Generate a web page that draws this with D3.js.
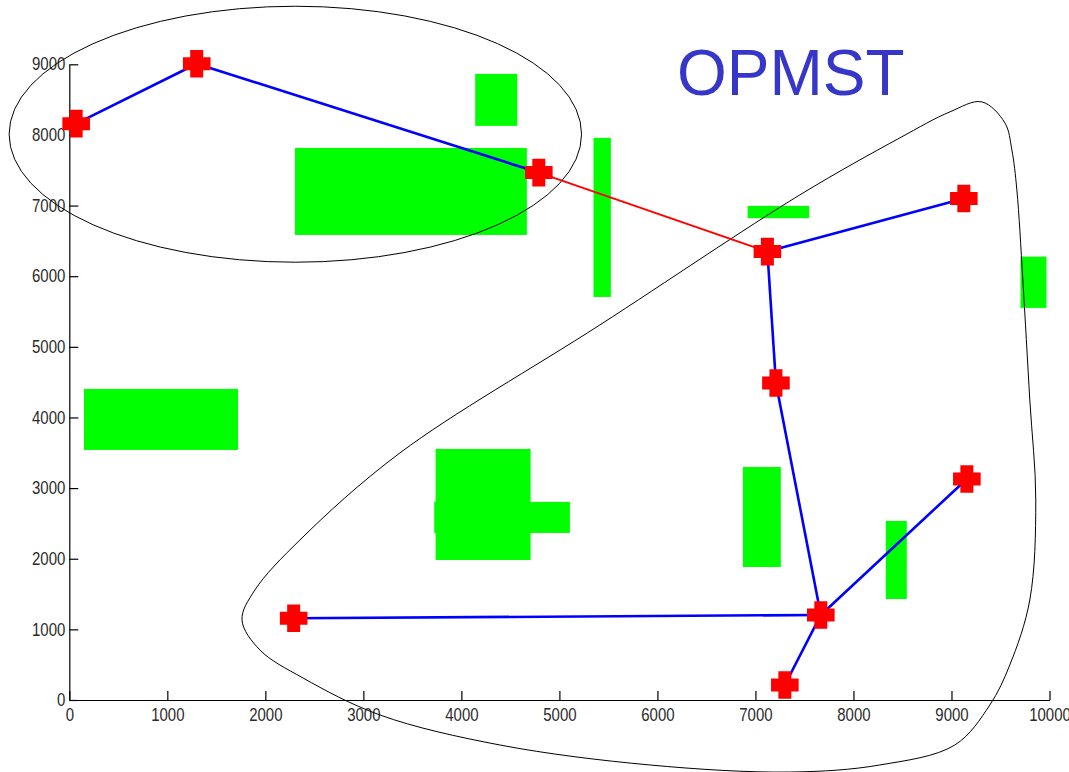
<!DOCTYPE html>
<html>
<head>
<meta charset="utf-8">
<script src="https://cdn.jsdelivr.net/npm/d3@7"></script>
<style>
  html, body { margin: 0; padding: 0; background: #fff; }
  svg { display: block; }
  .tick text { font-family: "Liberation Sans", Arial, sans-serif; font-size: 15px; fill: #2a2a2a; }
</style>
</head>
<body>
<svg id="chart" width="1069" height="772"></svg>
<script>
// Network nodes (sensor positions)
const nodeX = [70, 1300, 4790, 7122, 9126, 7209, 7667, 2289, 7300, 9157];
const nodeY = [8160, 9008, 7467, 6348, 7099, 4489, 1204, 1157, 212, 3129];

// Tree edges: [from, to]; the bridge between the two clusters is red
const edgeFrom  = [0, 1, 2, 3, 3, 5, 6, 6, 6];
const edgeTo    = [1, 2, 3, 4, 5, 6, 7, 8, 9];
const edgeColor = ["#0000ff", "#0000ff", "#ff0000", "#0000ff", "#0000ff", "#0000ff", "#0000ff", "#0000ff", "#0000ff"];

// Obstacles: [x0, x1] x [y0, y1]
const obsX0 = [4141, 2302, 5348, 6920, 9704, 150, 3737, 3723, 6872, 8330];
const obsX1 = [4570, 4668, 5525, 7548, 9969, 1721, 4706, 5107, 7259, 8544];
const obsY0 = [8128, 6584, 5706, 6821, 5551, 3540, 1982, 2365, 1883, 1430];
const obsY1 = [8864, 7816, 7958, 6995, 6277, 4404, 3554, 2804, 3299, 2535];

// Cluster outlines
const ellipseCenter = [2306, 8010];
const ellipseRadii  = [2920, 1812];
const blobX = [9309, 9545, 9616, 9667, 9728, 9799, 9860, 9799, 9595, 9391, 9034, 8269, 7351, 5923, 4393, 3169, 2384, 1945, 1762, 1894, 2353, 3373, 5413, 7453, 8473, 8983];
const blobY = [8468, 8170, 7788, 7222, 5947, 4248, 2832, 1416, 496, -71, -637, -920, -1020, -920, -637, -212, 312, 708, 1133, 1558, 2266, 3498, 5310, 7151, 7958, 8326];

// Axes
const xTicks = [0, 1000, 2000, 3000, 4000, 5000, 6000, 7000, 8000, 9000, 10000];
const yTicks = [0, 1000, 2000, 3000, 4000, 5000, 6000, 7000, 8000, 9000];

const title = "OPMST";
const titlePos = [6199, 8567];

const svg = d3.select("#chart");
const W = 1069, H = 772;
const margin = { left: 69.3, right: 19.5, top: 64.3, bottom: 72 };

const x = d3.scaleLinear().domain([0, 10000]).range([margin.left, W - margin.right]);
const y = d3.scaleLinear().domain([0, 9000]).range([H - margin.bottom, margin.top]);

// Obstacles
svg.append("g").selectAll("rect")
  .data(d3.range(obsX0.length))
  .join("rect")
  .attr("x", i => x(obsX0[i]))
  .attr("y", i => y(obsY1[i]))
  .attr("width", i => x(obsX1[i]) - x(obsX0[i]))
  .attr("height", i => y(obsY0[i]) - y(obsY1[i]))
  .attr("fill", "#00ff00");

// Axes with inward ticks
const xAxis = d3.axisBottom(x).tickValues(xTicks).tickFormat(d3.format("d"))
  .tickSizeInner(-9).tickSizeOuter(0).tickPadding(7);
const yAxis = d3.axisLeft(y).tickValues(yTicks).tickFormat(d3.format("d"))
  .tickSizeInner(-9).tickSizeOuter(0).tickPadding(6);

const gx = svg.append("g").attr("transform", `translate(0,${y(0)})`).call(xAxis);
const gy = svg.append("g").attr("transform", `translate(${x(0)},0)`).call(yAxis);
[gx, gy].forEach(g => {
  g.select(".domain").attr("stroke", "#000").attr("stroke-width", 1.2);
  g.selectAll(".tick line").attr("stroke", "#000").attr("stroke-width", 1.2);
  // slightly tall, narrow digits
  g.selectAll(".tick text").attr("transform", "scale(1,1.18)");
});
gy.selectAll(".tick text").attr("dx", "2");

// Cluster outlines
svg.append("ellipse")
  .attr("cx", x(ellipseCenter[0]))
  .attr("cy", y(ellipseCenter[1]))
  .attr("rx", x(ellipseRadii[0]) - x(0))
  .attr("ry", y(0) - y(ellipseRadii[1]))
  .attr("fill", "none").attr("stroke", "#000").attr("stroke-width", 1);

const blobLine = d3.line()
  .x(i => x(blobX[i]))
  .y(i => y(blobY[i]))
  .curve(d3.curveCatmullRomClosed.alpha(0.5));
svg.append("path")
  .attr("d", blobLine(d3.range(blobX.length)))
  .attr("fill", "none").attr("stroke", "#000").attr("stroke-width", 1);

// Tree edges
svg.append("g").selectAll("line")
  .data(d3.range(edgeFrom.length))
  .join("line")
  .attr("x1", i => x(nodeX[edgeFrom[i]]))
  .attr("y1", i => y(nodeY[edgeFrom[i]]))
  .attr("x2", i => x(nodeX[edgeTo[i]]))
  .attr("y2", i => y(nodeY[edgeTo[i]]))
  .attr("stroke", i => edgeColor[i])
  .attr("stroke-width", i => edgeColor[i] === "#ff0000" ? 2 : 2.6);

// Node markers: filled plus signs
function plusPath(half, arm) {
  return `M${-arm},${-half}H${arm}V${-arm}H${half}V${arm}H${arm}V${half}H${-arm}V${arm}H${-half}V${-arm}H${-arm}Z`;
}
svg.append("g").selectAll("path")
  .data(d3.range(nodeX.length))
  .join("path")
  .attr("transform", i => `translate(${x(nodeX[i])},${y(nodeY[i])})`)
  .attr("d", plusPath(13.8, 6.5))
  .attr("fill", "#ff0000");

// Title
svg.append("text")
  .attr("x", x(titlePos[0]))
  .attr("y", y(titlePos[1]))
  .attr("font-family", "Liberation Sans, Arial, sans-serif")
  .attr("font-size", 64)
  .attr("fill", "#3636c9")
  .text(title);
</script>
</body>
</html>
